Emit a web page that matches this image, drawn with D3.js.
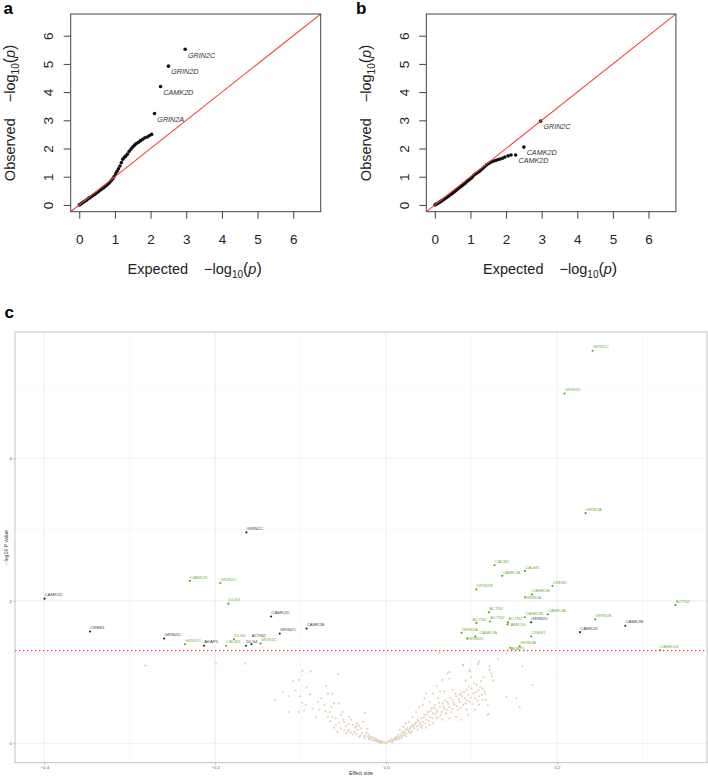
<!DOCTYPE html>
<html><head><meta charset="utf-8">
<script src="https://cdn.jsdelivr.net/npm/d3@7"></script>
<style>
body{margin:0;background:#fff}
svg{display:block}
text{font-family:"Liberation Sans",Arial,Helvetica,sans-serif}
</style>
</head><body>
<svg id="chart" width="708" height="776"></svg>
<script>
// ---------- Panel a : QQ plot ----------
const qqTicks = [0, 1, 2, 3, 4, 5, 6];
const qqA_expected = [0.00,0.03,0.06,0.09,0.12,0.15,0.18,0.21,0.24,0.27,0.30,0.34,0.38,0.42,0.46,0.50,0.54,0.58,0.62,0.66,0.70,0.74,0.78,0.82,0.86,0.90,0.94,0.98,1.02,1.06,1.10,1.14,1.18,1.22,1.26,1.30,1.35,1.40,1.45,1.50,1.55,1.60,1.66,1.72,1.78,1.84,1.91,1.97,2.03];
const qqA_observed = [0.00,0.02,0.05,0.08,0.10,0.13,0.15,0.18,0.21,0.24,0.26,0.30,0.33,0.37,0.40,0.44,0.48,0.52,0.56,0.59,0.63,0.67,0.71,0.76,0.81,0.87,0.93,1.01,1.10,1.19,1.28,1.38,1.50,1.62,1.68,1.73,1.80,1.90,1.98,2.05,2.12,2.18,2.22,2.28,2.33,2.38,2.41,2.46,2.50];
const qqA_labelGenes = ["GRIN2A", "CAMK2D", "GRIN2D", "GRIN2C"];
const qqA_labelExpected = [2.11, 2.28, 2.50, 2.97];
const qqA_labelObserved = [3.24, 4.20, 4.92, 5.52];

// ---------- Panel b : QQ plot ----------
const qqB_expected = [0.00,0.03,0.06,0.09,0.12,0.15,0.18,0.21,0.24,0.27,0.30,0.34,0.38,0.42,0.46,0.50,0.54,0.58,0.62,0.66,0.70,0.74,0.78,0.82,0.86,0.90,0.94,0.98,1.02,1.06,1.10,1.14,1.18,1.22,1.26,1.30,1.35,1.40,1.45,1.50,1.55,1.60,1.66,1.72,1.78,1.84,1.91,1.97,2.06,2.14];
const qqB_observed = [0.00,0.02,0.04,0.06,0.09,0.11,0.14,0.16,0.19,0.21,0.24,0.27,0.31,0.35,0.38,0.42,0.46,0.50,0.54,0.58,0.62,0.66,0.70,0.74,0.78,0.83,0.87,0.91,0.95,1.00,1.06,1.10,1.13,1.17,1.20,1.25,1.30,1.36,1.42,1.46,1.50,1.53,1.56,1.58,1.61,1.63,1.66,1.70,1.74,1.77];
const qqB_labelGenes = ["CAMK2D", "CAMK2D", "GRIN2C"];
const qqB_labelExpected = [2.27, 2.50, 2.97];
const qqB_labelObserved = [1.77, 2.05, 2.97];

// ---------- Panel c : volcano plot ----------
const volcanoXTicks = [-0.4, -0.2, 0.0, 0.2];
const volcanoXMinor = [-0.3, -0.1, 0.1, 0.3];
const volcanoYTicks = [0, 2, 4];
const volcanoYMinor = [1, 3, 5];
const volcanoThreshold = 1.30;
const volcanoGenes = ["GRIN2C","GRIN2D","GRIN2A","GRIN2C","CALM1","CALM1","CAMK2A","CAMK2D","GRIN2C","CREB1","GRIN2B","CAMK2B","GRIN2A","CAMK2D","DLG4","ACTN2","ACTN2","CAMK2A","CAMK2D","CAMK2B","GRIN2B","ACTN2","GRIN2D","ACTN2","ACTN2","CAMK2G","CAMK2B","CAMK2B","CREB1","CAMK2D","GRIN2A","GRIN2C","CAMK2A","CREB1","GRIN2D","GRIN2D","DLG4","GRIN2C","GRIN2C","ACTN2","AKAP5","CALM1","DLG4","GRIN2A","AKAP5","CAMK2G"];
const volcanoEffect = [0.2416,0.2088,0.2334,-0.1635,0.1270,0.1626,0.1360,-0.2296,-0.1940,0.1947,0.1056,0.1708,0.1626,-0.3997,-0.1846,0.3386,0.1204,0.1892,-0.1345,0.1626,0.2447,0.1216,0.1697,0.1427,0.1056,0.1419,0.2799,-0.0931,-0.3465,0.2268,0.0883,-0.1244,0.1044,0.1697,-0.2597,0.0950,-0.1780,-0.1470,-0.2354,-0.1576,-0.2131,-0.1873,-0.1639,0.1564,0.1455,0.3206];
const volcanoLogP = [5.51,4.91,3.23,2.96,2.50,2.42,2.35,2.28,2.25,2.21,2.16,2.09,2.05,2.03,1.96,1.94,1.84,1.81,1.78,1.77,1.74,1.71,1.70,1.70,1.69,1.67,1.65,1.61,1.57,1.56,1.55,1.54,1.50,1.50,1.47,1.47,1.46,1.40,1.39,1.39,1.37,1.37,1.37,1.36,1.34,1.31];
const volcanoGroup = ["g","g","g","k","g","g","g","g","g","g","g","g","g","k","g","g","g","g","k","g","g","g","k","g","g","g","k","k","k","k","g","k","g","g","k","g","g","g","g","k","k","g","k","g","g","g"];
const bgEffect = [-0.2815,-0.199,-0.165,-0.130,-0.121,-0.109,-0.102,-0.098,-0.088,-0.056,-0.114,-0.114,-0.106,-0.101,-0.098,-0.102,-0.096,-0.086,-0.094,-0.076,-0.070,-0.068,-0.063,-0.072,-0.064,-0.078,-0.061,-0.055,-0.066,-0.068,-0.063,-0.059,-0.059,-0.053,-0.051,-0.049,-0.047,-0.043,-0.041,-0.039,-0.036,-0.034,-0.033,-0.025,-0.027,-0.029,-0.023,-0.022,-0.020,-0.018,-0.016,-0.014,-0.012,-0.010,-0.008,-0.006,-0.004,-0.002,0.000,-0.043,-0.047,-0.039,-0.031,-0.025,-0.020,-0.037,-0.053,-0.049,-0.057,-0.061,-0.082,-0.045,-0.041,-0.035,-0.030,-0.028,-0.026,-0.024,-0.021,-0.019,-0.017,-0.015,-0.013,-0.011,-0.009,-0.007,-0.005,-0.035,-0.032,-0.044,-0.050,-0.055,-0.065,-0.071,-0.080,-0.089,-0.093,
0.002,0.004,0.006,0.008,0.010,0.012,0.014,0.016,0.018,0.020,0.021,0.023,0.025,0.027,0.029,0.031,0.033,0.035,0.037,0.039,0.041,0.043,0.045,0.047,0.049,0.051,0.053,0.055,0.057,0.059,0.061,0.063,0.065,0.066,0.068,0.070,0.072,0.074,0.076,0.078,0.080,0.082,0.084,0.086,0.088,0.090,0.092,0.094,0.096,0.098,0.100,0.102,0.104,0.106,0.108,0.109,0.111,0.113,0.115,0.117,0.119,0.121,0.119,0.123,0.098,0.108,0.090,0.074,0.066,0.059,0.047,0.045,0.055,0.063,0.068,0.078,0.086,0.061,0.051,0.043,0.039,0.035,0.031,0.027,0.023,0.020,0.016,0.037,0.041,0.029,0.023,0.018,0.012,0.047,0.055,0.051,0.059,0.066,0.074,0.082,0.088,0.096,0.104,0.094,0.109,0.113,
0.0625,0.0899,0.1087,0.1212,0.131,0.1408,0.1525,0.1564,0.1595,0.1713,0.1204,0.0977,0.1408,0.1075,0.1239,0.1255,0.0739,0.0719,0.0932,0.0994,
0.005,0.007,0.009,0.011,0.013,0.015,0.017,0.019,0.022,0.024,0.026,0.028,0.030,0.032,0.034,0.036,0.038,0.040,0.042,0.044,0.046,0.048,0.050,0.052,0.054,0.056,0.058,0.060,0.062,0.064,0.067,0.069,0.071,0.073,0.075,0.077,0.079,0.081,0.083,0.085,0.087,0.089,0.091,0.093,0.095,0.097,0.099,0.101,0.103,0.105,0.107,0.110,0.112,0.114,0.116];
const bgLogP = [1.09,1.12,1.12,0.61,0.72,0.87,0.89,1.02,1.01,0.97,0.44,0.66,0.74,0.66,0.57,0.44,0.46,0.49,0.54,0.63,0.80,0.70,0.70,0.54,0.51,0.47,0.56,0.56,0.44,0.37,0.37,0.35,0.26,0.40,0.44,0.30,0.24,0.37,0.33,0.26,0.22,0.28,0.19,0.43,0.30,0.21,0.15,0.20,0.12,0.09,0.08,0.07,0.06,0.05,0.03,0.02,0.01,0.01,0.005,0.19,0.14,0.12,0.09,0.07,0.06,0.16,0.21,0.19,0.16,0.22,0.37,0.17,0.15,0.13,0.11,0.14,0.10,0.11,0.09,0.07,0.05,0.04,0.04,0.03,0.02,0.01,0.03,0.24,0.25,0.27,0.33,0.29,0.31,0.45,0.58,0.69,0.78,
0.02,0.04,0.06,0.05,0.07,0.09,0.12,0.09,0.14,0.16,0.12,0.19,0.21,0.16,0.23,0.26,0.21,0.29,0.33,0.26,0.35,0.30,0.40,0.33,0.44,0.37,0.49,0.42,0.54,0.47,0.37,0.51,0.44,0.56,0.49,0.42,0.58,0.51,0.44,0.61,0.54,0.66,0.47,0.58,0.70,0.54,0.63,0.75,0.68,0.58,0.77,0.70,0.63,0.82,0.75,0.66,0.87,0.77,0.73,0.61,0.54,1.03,0.40,0.98,1.01,1.12,1.10,0.91,0.89,0.80,0.70,0.63,0.70,0.73,0.73,0.75,0.68,0.63,0.58,0.54,0.51,0.44,0.37,0.30,0.28,0.23,0.19,0.19,0.22,0.14,0.10,0.07,0.05,0.22,0.28,0.26,0.35,0.33,0.35,0.37,0.33,0.40,0.47,0.47,0.54,0.61,
1.27,1.10,1.15,1.08,1.18,0.65,0.63,0.51,1.08,0.82,0.41,1.03,1.26,1.11,0.94,0.88,1.00,0.98,0.88,0.93,
0.03,0.02,0.04,0.06,0.08,0.06,0.11,0.10,0.15,0.13,0.18,0.20,0.17,0.24,0.27,0.24,0.31,0.28,0.25,0.36,0.28,0.40,0.31,0.45,0.35,0.50,0.41,0.44,0.57,0.40,0.52,0.60,0.47,0.55,0.64,0.48,0.57,0.70,0.52,0.62,0.50,0.66,0.72,0.56,0.60,0.80,0.64,0.55,0.84,0.72,0.60,0.79,0.68,0.93,0.70];

const svg = d3.select("#chart");
const FONT = '"Liberation Sans",Arial,Helvetica,sans-serif';

function titleText(g, tx, ty, rotate, label) {
  const t = g.append("text")
    .attr("transform", `translate(${tx},${ty})` + (rotate ? " rotate(-90)" : ""))
    .attr("text-anchor", "middle").attr("font-size", 14.5).attr("fill", "#222");
  t.append("tspan").text(label);
  t.append("tspan").attr("dx", 16).text("\u2212log");
  t.append("tspan").attr("font-size", 10).attr("dy", 4).text("10");
  t.append("tspan").attr("dy", -4).attr("font-size", 16).text("(");
  t.append("tspan").attr("font-style", "italic").text("p");
  t.append("tspan").attr("font-size", 16).text(")");
}

function drawQQ(cfg) {
  const {x0, x1, y0, y1, exp, obs, lGenes, lExp, lObs, letter, letterX, id} = cfg;
  const dom = [-0.24, 6.77];
  const x = d3.scaleLinear().domain(dom).range([x0, x1]);
  const y = d3.scaleLinear().domain(dom).range([y1, y0]);
  const g = svg.append("g");
  g.append("clipPath").attr("id", id).append("rect")
    .attr("x", x0).attr("y", y0).attr("width", x1 - x0).attr("height", y1 - y0);
  const inner = g.append("g").attr("clip-path", `url(#${id})`);
  inner.selectAll("circle.pt").data(exp.map((e, i) => [e, obs[i]])).join("circle")
    .attr("class", "pt").attr("cx", d => x(d[0])).attr("cy", d => y(d[1])).attr("r", 1.8).attr("fill", "#111");
  inner.selectAll("circle.lab").data(lExp.map((e, i) => [e, lObs[i]])).join("circle")
    .attr("class", "lab").attr("cx", d => x(d[0])).attr("cy", d => y(d[1])).attr("r", 1.8).attr("fill", "#111");
  inner.append("line")
    .attr("x1", x(dom[0])).attr("y1", y(dom[0])).attr("x2", x(dom[1])).attr("y2", y(dom[1]))
    .attr("stroke", "#f0453f").attr("stroke-width", 1.1);
  g.selectAll("text.gl").data(lGenes).join("text").attr("class", "gl")
    .attr("x", (d, i) => x(lExp[i]) + 2.8).attr("y", (d, i) => y(lObs[i]) + 8.3)
    .attr("font-size", 7.2).attr("font-style", "italic").attr("fill", "#333").text(d => d);
  g.append("rect").attr("x", x0).attr("y", y0).attr("width", x1 - x0).attr("height", y1 - y0)
    .attr("fill", "none").attr("stroke", "#444").attr("stroke-width", 1);
  const ax = g.append("g").attr("transform", `translate(0,${y1})`)
    .call(d3.axisBottom(x).tickValues(qqTicks).tickSize(7).tickFormat(d3.format("d")));
  ax.select(".domain").remove();
  ax.selectAll(".tick line").attr("stroke", "#444");
  ax.selectAll(".tick text").attr("y", 32.8).attr("dy", 0).attr("font-size", 13.5).attr("fill", "#222").attr("font-family", FONT);
  const ay = g.append("g").attr("transform", `translate(${x0},0)`)
    .call(d3.axisLeft(y).tickValues(qqTicks).tickSize(7).tickFormat(d3.format("d")));
  ay.select(".domain").remove();
  ay.selectAll(".tick line").attr("stroke", "#444");
  ay.selectAll(".tick text").attr("x", 0).attr("y", 0).attr("dy", 0)
    .attr("transform", "translate(-17.3,0) rotate(-90)").attr("text-anchor", "middle")
    .attr("font-size", 13.5).attr("fill", "#222").attr("font-family", FONT);
  titleText(g, (x0 + x1) / 2 - 1, 273.5, false, "Expected");
  titleText(g, x0 - 55.5, (y0 + y1) / 2, true, "Observed");
  g.append("text").attr("x", letterX).attr("y", 13.5).attr("font-size", 17).attr("font-weight", "bold").attr("fill", "#000").text(letter);
}

drawQQ({x0: 70.7, x1: 320.7, y0: 14, y1: 211.7, exp: qqA_expected, obs: qqA_observed,
  lGenes: qqA_labelGenes, lExp: qqA_labelExpected, lObs: qqA_labelObserved, letter: "a", letterX: 3.5, id: "clipA"});
drawQQ({x0: 426.3, x1: 675.9, y0: 14, y1: 211.7, exp: qqB_expected, obs: qqB_observed,
  lGenes: qqB_labelGenes, lExp: qqB_labelExpected, lObs: qqB_labelObserved, letter: "b", letterX: 356, id: "clipB"});

// ---------- volcano ----------
(function () {
  const L = 15, R = 707, T = 332, B = 762.7;
  const x = d3.scaleLinear().domain([-0.4, 0.2]).range([44.3, 557]);
  const y = d3.scaleLinear().domain([0, 4]).range([743.3, 458.3]);
  const g = svg.append("g");
  g.append("text").attr("x", 4.5).attr("y", 318).attr("font-size", 17).attr("font-weight", "bold").text("c");
  // grid
  g.selectAll("line.vminor").data(volcanoXMinor).join("line").attr("class", "vminor")
    .attr("x1", d => x(d)).attr("x2", d => x(d)).attr("y1", T).attr("y2", B).attr("stroke", "#f3f3f3").attr("stroke-width", 0.6);
  g.selectAll("line.hminor").data(volcanoYMinor).join("line").attr("class", "hminor")
    .attr("y1", d => y(d)).attr("y2", d => y(d)).attr("x1", L).attr("x2", R).attr("stroke", "#f3f3f3").attr("stroke-width", 0.6);
  g.selectAll("line.vmajor").data(volcanoXTicks).join("line").attr("class", "vmajor")
    .attr("x1", d => x(d)).attr("x2", d => x(d)).attr("y1", T).attr("y2", B).attr("stroke", "#e9e9e9").attr("stroke-width", 0.8);
  g.selectAll("line.hmajor").data(volcanoYTicks).join("line").attr("class", "hmajor")
    .attr("y1", d => y(d)).attr("y2", d => y(d)).attr("x1", L).attr("x2", R).attr("stroke", "#e9e9e9").attr("stroke-width", 0.8);
  // background genes
  g.selectAll("circle.bg").data(bgEffect.map((e, i) => [e, bgLogP[i]])).join("circle").attr("class", "bg")
    .attr("cx", d => x(d[0])).attr("cy", d => y(d[1])).attr("r", 1.05).attr("fill", "#dcc5a6").attr("fill-opacity", 0.8);
  // threshold
  g.append("line").attr("x1", L).attr("x2", R).attr("y1", y(volcanoThreshold)).attr("y2", y(volcanoThreshold))
    .attr("stroke", "#e8332b").attr("stroke-width", 1.2).attr("stroke-dasharray", "1.3,2.7");
  // labelled genes
  const pts = volcanoGenes.map((n, i) => ({n, v: volcanoEffect[i], p: volcanoLogP[i], grp: volcanoGroup[i]}));
  g.selectAll("circle.sig").data(pts).join("circle").attr("class", "sig")
    .attr("cx", d => x(d.v)).attr("cy", d => y(d.p)).attr("r", 1.05)
    .attr("fill", d => d.grp === "g" ? "#55a01c" : "#222");
  const labels = g.selectAll("text.sig").data(pts).join("text").attr("class", "sig")
    .attr("font-size", 4.3).attr("fill", d => d.grp === "g" ? "#72b23a" : "#444").text(d => d.n);
  // simple greedy label repel (ggrepel-like): nudge a label until it no longer overlaps placed ones
  const placed = [];
  const cands = [[0,0],[0,-4.6],[4,0],[-4,0],[0,4.2],[4,-4.6],[-4,-4.6],[8,0],[-8,0],[8,-4.6],[-8,-4.6],[0,-9.2],[4,4.2],[-4,4.2],[12,0],[-12,0],[12,-4.6],[-12,-4.6],[0,8.4],[8,4.2],[-8,4.2],[16,0],[-16,0]];
  labels.each(function (d) {
    const w = this.getComputedTextLength();
    const bx = x(d.v) + 0.2, by = y(d.p) - 2.3;
    let chosen = cands[0];
    for (const c of cands) {
      const r = {x0: bx + c[0], x1: bx + c[0] + w, y0: by + c[1] - 3.3, y1: by + c[1] + 0.4};
      const hit = placed.some(q => r.x0 < q.x1 && r.x1 > q.x0 && r.y0 < q.y1 && r.y1 > q.y0);
      if (!hit) { chosen = c; placed.push(r); break; }
    }
    d3.select(this).attr("x", bx + chosen[0]).attr("y", by + chosen[1]);
  });
  // border
  g.append("rect").attr("x", L).attr("y", T).attr("width", R - L).attr("height", B - T)
    .attr("fill", "none").attr("stroke", "#bdbdbd").attr("stroke-width", 0.9);
  // axes
  const ax = g.append("g").attr("transform", `translate(0,${B})`)
    .call(d3.axisBottom(x).tickValues(volcanoXTicks).tickSize(2).tickPadding(1.5).tickFormat(d3.format(".1f")));
  ax.select(".domain").remove();
  ax.selectAll(".tick line").attr("stroke", "#999").attr("stroke-width", 0.6);
  ax.selectAll(".tick text").attr("font-size", 4.3).attr("fill", "#555").attr("font-family", FONT);
  const ay = g.append("g").attr("transform", `translate(${L},0)`)
    .call(d3.axisLeft(y).tickValues(volcanoYTicks).tickSize(2).tickPadding(1.2).tickFormat(d3.format("d")));
  ay.select(".domain").remove();
  ay.selectAll(".tick line").attr("stroke", "#999").attr("stroke-width", 0.6);
  ay.selectAll(".tick text").attr("font-size", 4.3).attr("fill", "#555").attr("font-family", FONT);
  g.append("text").attr("x", (L + R) / 2).attr("y", 774.5).attr("text-anchor", "middle")
    .attr("font-size", 5.2).attr("fill", "#333").text("Effect size");
  g.append("text").attr("transform", `translate(8.3,${(T + B) / 2}) rotate(-90)`).attr("text-anchor", "middle")
    .attr("font-size", 5.2).attr("fill", "#333").text("- log10 P value");
})();
</script>
</body></html>
